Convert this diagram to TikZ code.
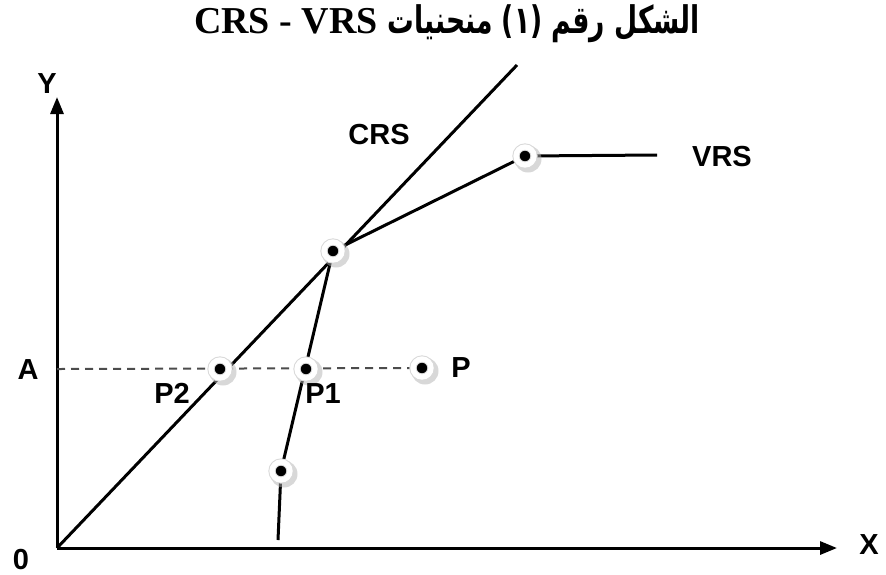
\documentclass[tikz,border=0pt]{standalone}
\usepackage{fontspec}
\usepackage{graphicx}
\setmainfont{Liberation Sans}
\newfontfamily\arabicfont[Script=Arabic]{DejaVu Sans}
\newfontfamily\titlefont{Liberation Serif}
\TeXXeTstate=1
\usetikzlibrary{positioning}
\usetikzlibrary{arrows.meta}
\usetikzlibrary{shadows}

\tikzset{
	dotmark/.style={circle, fill=black, minimum size=9pt, inner sep=0pt,
		draw=gray!30, line width=0.5pt, double=white, double distance=2.6pt,
		drop shadow={shadow xshift=1pt, shadow yshift=-1pt, shadow scale=1.5, fill=gray!60, opacity=0.5}},
	lbl/.style={font=\bfseries\fontsize{14.5}{16}\selectfont, inner sep=0pt},
	axis/.style={line width=1.5pt, -{Triangle[length=8.5pt, width=6.5pt]}},
	curve/.style={line width=1.5pt},
}

\begin{document}
\begin{tikzpicture}[x=0.5pt, y=-0.5pt]
	\useasboundingbox (0,0) rectangle (886,574);
	% title
	\node (title) at (447,24) {\fontsize{19}{22}\selectfont\bfseries{\titlefont CRS - VRS}\hspace{5pt}\scalebox{0.7}[1]{\arabicfont\beginR الشكل رقم (١) منحنيات\endR}};
	% points
	\coordinate (o) at (57,548);
	\coordinate (xend) at (837,548);
	\coordinate (yend) at (57,97);
	\coordinate (crsend) at (517,65);
	\coordinate (k) at (333,251);
	\coordinate (v) at (525,156);
	\coordinate (vrsend) at (657,155);
	\coordinate (p2) at (220,369);
	\coordinate (p1) at (306,369);
	\coordinate (p) at (422,368);
	\coordinate (l) at (281,471);
	\coordinate (b) at (278,540);
	\coordinate (a) at (57,369);
	% axes
	\draw[axis] (o) -- (xend);
	\draw[axis] (o) -- (yend);
	% curves
	\draw[curve] (o) -- (crsend);
	\draw[curve] (b) -- (l) -- (k) -- (v) -- (vrsend);
	\draw[gray!60!black, line width=1pt, dash pattern=on 4pt off 3pt] (a) -- (p);
	% markers
	\foreach \pos in {k, v, p2, p1, p, l}
		\node[dotmark] (\pos-dot) at (\pos) {};
	% labels
	\node[lbl] (ylbl) at (47,84) {Y};
	\node[lbl] (xlbl) at (869,545) {X};
	\node[lbl] (olbl) at (21,559) {0};
	\node[lbl] (albl) at (28,370) {A};
	\node[lbl] (p2lbl) at (172,393) {P2};
	\node[lbl] (p1lbl) at (323,394) {P1};
	\node[lbl, right=19.5pt of p-dot.center, anchor=center] (plbl) {P};
	\node[lbl] (crslbl) at (379,135) {CRS};
	\node[lbl] (vrslbl) at (722,157) {VRS};
\end{tikzpicture}
\end{document}
